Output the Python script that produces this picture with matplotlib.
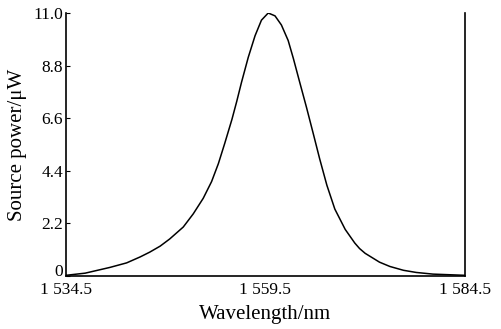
import matplotlib
matplotlib.use('Agg')
import matplotlib.pyplot as plt
from matplotlib.ticker import FixedLocator

plt.rcParams['font.family'] = ['Liberation Serif', 'DejaVu Serif']
plt.rcParams['font.size'] = 12.5

# values
wavelength = [1534.5, 1536.9, 1540.0, 1542.1, 1543.8, 1545.0, 1546.3, 1547.5,
              1549.2, 1550.45, 1551.7, 1552.75, 1553.6, 1554.4, 1555.3, 1555.9,
              1556.5, 1557.35, 1558.2, 1559.0, 1559.85, 1560.7, 1561.5, 1562.35,
              1563.0, 1563.8, 1564.65, 1565.5, 1566.3, 1567.2, 1568.2, 1569.5,
              1570.7, 1571.3, 1572.0, 1573.8, 1575.1, 1576.8, 1578.4, 1580.5,
              1584.5]
power = [0.03, 0.12, 0.36, 0.55, 0.80, 1.00, 1.25, 1.55,
         2.05, 2.6, 3.25, 3.95, 4.7, 5.55, 6.55, 7.3,
         8.1, 9.15, 10.05, 10.7, 11.0, 10.88, 10.5, 9.85,
         9.1, 8.1, 7.05, 5.95, 4.9, 3.8, 2.8, 1.95,
         1.38, 1.15, 0.95, 0.58, 0.40, 0.24, 0.15, 0.08,
         0.03]

xticks = [1534.5, 1559.5, 1584.5]
xticklabels = ['1 534.5', '1 559.5', '1 584.5']
yticks = [0, 2.2, 4.4, 6.6, 8.8, 11.0]
yticklabels = ['0', '2.2', '4.4', '6.6', '8.8', '11.0']

fig = plt.figure(figsize=(5.02, 3.29), dpi=100)
ax = fig.add_axes([0.1315, 0.161, 0.7945, 0.7995])

ax.plot(wavelength, power, color='black', lw=1.1, solid_joinstyle='round')

ax.set_xlim(1534.5, 1584.5)
ax.set_ylim(0, 11.0)
ax.xaxis.set_major_locator(FixedLocator(xticks))
ax.set_xticklabels(xticklabels)
ax.yaxis.set_major_locator(FixedLocator(yticks))
ax.set_yticklabels(yticklabels)
# "0" sits on the axis line so it clears the x tick label
ax.get_yticklabels()[0].set_verticalalignment('baseline')

ax.spines['top'].set_visible(False)
for s in ['left', 'right', 'bottom']:
    ax.spines[s].set_linewidth(1.2)
ax.tick_params(axis='y', direction='in', length=3, pad=2)
ax.tick_params(axis='x', length=0, pad=4)

ax.set_xlabel('Wavelength/nm', fontsize=15, labelpad=5)
ax.set_ylabel('Source power/μW', fontsize=15, labelpad=5)

fig.savefig('out.png', dpi=100)
